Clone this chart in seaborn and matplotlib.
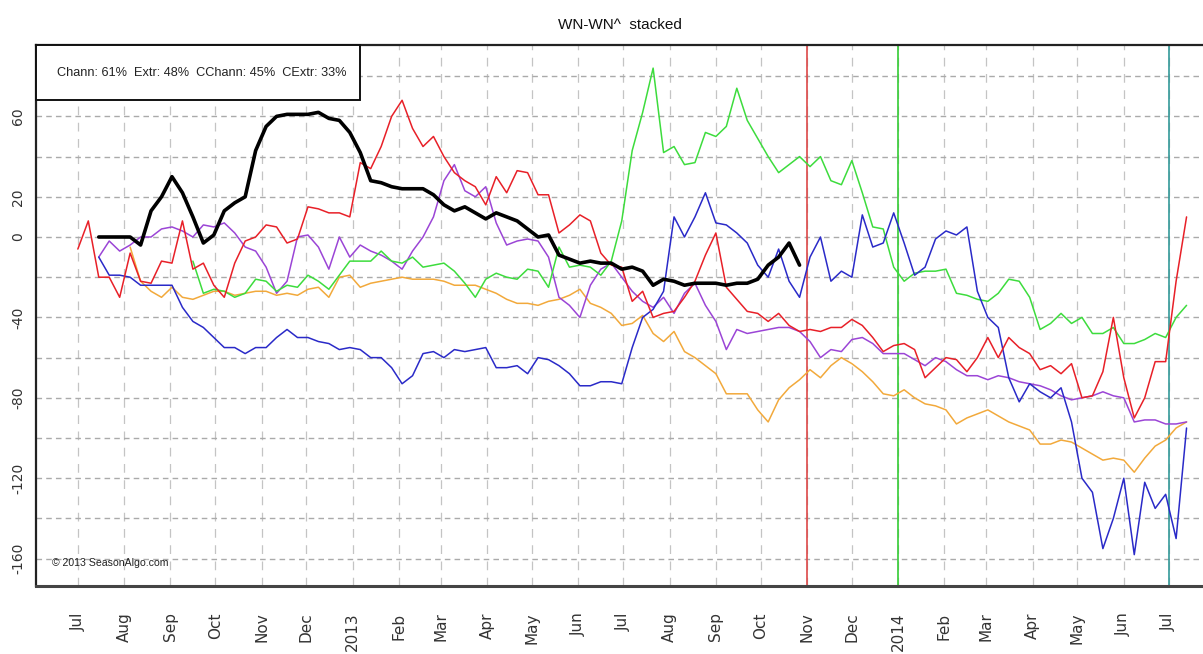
import pandas as pd
import seaborn as sns
import matplotlib.pyplot as plt
from matplotlib.patches import Rectangle

# weekly readings: one value every 7 days from each series' start date
red_start = '2012-07-01'
red_vals = [-6, 8, -20, -20, -30, -8, -22, -23, -12, -13, 8, -16, -13, -24, -30, -13, -2, 0, 6, 5,
            -3, -1, 15, 14, 12, 12, 10, 37, 34, 45, 60, 68, 54, 45,
            50, 40, 32, 28, 25, 16, 30, 22, 33, 32, 21, 21, 2, 6, 11, 8, -8, -14, -15, -32,
            -27, -40, -38, -37, -30, -22, -9, 2, -25, -31, -37, -38, -42, -38, -44, -47,
            -46, -47, -45, -45, -41, -44, -50, -57, -54, -53, -56, -70, -65, -60, -61, -67,
            -60, -50, -60, -50, -55, -58, -66, -64, -68, -63, -80, -79, -67, -40, -70, -90,
            -80, -62, -62, -22, 10]

black_start = '2012-07-15'
black_vals = [0, 0, 0, 0, -4, 13, 20, 30, 22, 10, -3, 1, 13, 17, 20, 43, 55, 60, 61, 61,
              61, 62, 59, 58, 52, 42, 28, 27, 25, 24, 24, 24,
              21, 16, 13, 15, 12, 9, 12, 10, 8, 4, 0, 1, -9, -11, -13, -12, -13, -13,
              -16, -15, -17, -24, -21, -22, -24, -23, -23, -23, -24, -23, -23, -21, -14, -10,
              -3, -14]

blue_start = '2012-07-15'
blue_vals = [-10, -19, -19, -20, -24, -24, -24, -24, -35, -42, -45, -50, -55, -55, -58, -55,
             -55, -50, -46, -50, -50, -52, -53, -56, -55, -56, -60, -60, -65, -73, -69, -58,
             -57, -60, -56, -57, -56, -55, -65, -65, -64, -68, -60, -61, -64, -68, -74, -74,
             -72, -72, -73, -55, -40, -36, -27, 10, 0, 10, 22, 7, 6, 2, -3, -14, -20, -6,
             -22, -30,
             -10, 0, -22, -17, -20, 11, -5, -3, 12, -3, -19, -15, -1, 3, 1, 5, -27, -40,
             -45, -70, -82, -73, -77, -80, -75, -92, -120, -127, -155, -140, -120, -158,
             -122, -135, -128, -150, -95]

purple_start = '2012-07-15'
purple_vals = [-10, -2, -7, -4, 0, 0, 4, 5, 3, 0, 6, 5, 7, 2, -5, -7, -15, -28, -22, 0,
               1, -5, -16, 0, -10, -4, -7, -9, -12, -16, -7, 0,
               10, 28, 36, 23, 20, 25, 7, -4, -2, -1, -2, -10, -30, -34, -40, -24, -16, -13,
               -20, -27, -32, -35, -30, -38, -28, -23, -34, -42, -56, -46, -48, -47, -46, -45,
               -45, -47,
               -52, -60, -56, -57, -51, -50, -53, -58, -58, -58, -61, -64, -60, -62, -66, -69,
               -69, -71, -69, -70, -72, -73, -74, -76, -79, -81, -80, -79, -77, -79, -80, -92,
               -91, -91, -93, -93, -92]

orange_start = '2012-08-05'
orange_vals = [-5, -22, -27, -30, -25, -30, -31, -29, -27, -27, -29, -28, -27, -27, -29, -28,
               -29, -26, -25, -30, -20, -19, -25, -23, -22, -21, -20, -21, -21,
               -21, -22, -24, -24, -24, -26, -28, -31, -33, -33, -34, -32, -31, -29, -26, -33,
               -35, -38, -44, -43, -39, -48, -52, -47, -57, -60, -64, -68, -78, -78, -78, -86,
               -92, -81, -75, -71,
               -66, -70, -64, -60, -63, -67, -72, -78, -79, -76, -80, -83, -84, -86, -93, -90,
               -88, -86, -89, -92, -94, -96, -103, -103, -101, -102, -105, -108, -111, -110,
               -111, -117, -110, -104, -101, -95, -92]

green_start = '2012-09-16'
green_vals = [-12, -28, -26, -27, -30, -28, -21, -22, -27, -24, -25, -19, -22, -26, -19, -12,
              -12, -12, -7, -12, -13, -10, -15,
              -14, -13, -17, -23, -30, -21, -18, -20, -21, -16, -17, -25, -5, -15, -14, -15,
              -19, -12, 8, 43, 62, 84, 42, 45, 36, 37, 52, 50, 55, 74, 58, 49, 40, 32, 36, 40,
              35, 40, 28, 26, 38, 22, 5, 4, -15, -22, -18, -17, -17, -16, -28, -29, -31, -32,
              -28, -21, -22, -30, -46, -43, -38, -43, -40, -48, -48, -45, -53, -53, -51, -48,
              -50, -40, -34]

marker_dates = ['2013-11-01', '2014-01-01', '2014-07-01']
marker_colors = ['#dd4848', '#33cc33', '#339999']

stats_text = 'Chann: 61%  Extr: 48%  CChann: 45%  CExtr: 33%'
title_text = 'WN-WN^  stacked'

series = [
    (orange_start, orange_vals, '#f2a93b', 1.1),
    (purple_start, purple_vals, '#9b45d6', 1.1),
    (green_start, green_vals, '#3ddc3d', 1.1),
    (blue_start, blue_vals, '#2a2ac8', 1.1),
    (red_start, red_vals, '#e82028', 1.1),
    (black_start, black_vals, '#000000', 2.6),
]


def main():
    sns.set_style('white')
    plt.rcParams['axes.unicode_minus'] = False
    narrow = ['Liberation Sans', 'DejaVu Sans']

    fig = plt.figure(figsize=(12.03, 6.54), dpi=100)
    ax = fig.add_axes([36 / 1203, 1 - 586 / 654, 1 - 36 / 1203, 541 / 654])

    for start, vals, color, lw in series:
        df = pd.DataFrame({'date': pd.date_range(start, periods=len(vals), freq='7D'),
                           'value': vals})
        sns.lineplot(data=df, x='date', y='value', color=color, linewidth=lw, ax=ax)

    for d, c in zip(marker_dates, marker_colors):
        ax.axvline(pd.Timestamp(d), color=c, lw=1.2, zorder=1)

    ax.set_xlim(pd.Timestamp('2012-06-03'), pd.Timestamp('2014-07-24'))
    ax.set_ylim(-173.6, 95.5)

    months = pd.date_range('2012-07-01', '2014-07-01', freq='MS')
    labels = [str(m.year) if m.month == 1 else m.strftime('%b') for m in months]
    ax.set_xticks(months)
    ax.set_xticklabels(labels)
    yticks = list(range(-160, 81, 20))
    shown = (60, 20, 0, -40, -80, -120, -160)
    ax.set_yticks(yticks)
    ax.set_yticklabels([str(v) if v in shown else '' for v in yticks])

    ax.tick_params(axis='x', length=0, pad=19, labelsize=11, labelrotation=90, colors='#333333')
    ax.tick_params(axis='y', length=0, pad=8, labelsize=10, labelrotation=90, colors='#333333')
    for lab in ax.get_yticklabels():
        lab.set_va('center')
    ax.yaxis.grid(True, linestyle=(0, (4, 3)), color='#aaaaaa', lw=1)
    ax.xaxis.grid(True, linestyle=(0, (7, 6)), color='#c4c4c4', lw=0.9)
    ax.set_axisbelow(True)
    ax.set_xlabel('')
    ax.set_ylabel('')

    for side in ('top', 'left', 'bottom'):
        ax.spines[side].set_visible(True)
        ax.spines[side].set_color('#222222')
        ax.spines[side].set_linewidth(1.6)
    ax.spines['bottom'].set_linewidth(2.2)
    ax.spines['bottom'].set_color('#444444')
    ax.spines['right'].set_visible(False)

    ax.add_patch(Rectangle((0, 0.898), 0.278, 0.102, transform=ax.transAxes,
                           facecolor='white', edgecolor='#111111', lw=1.4,
                           zorder=5, clip_on=False))
    ax.text(0.018, 0.949, stats_text, transform=ax.transAxes, va='center', ha='left',
            fontsize=9.2, family=narrow, color='#222222', zorder=6)
    ax.text(0.0137, 0.0425, '\u00a9 2013 SeasonAlgo.com', transform=ax.transAxes,
            va='center', ha='left', fontsize=7.6, family=narrow, color='#222222')
    fig.text(619.5 / 1203, 1 - 25 / 654, title_text, ha='center', va='center',
             fontsize=11, family=narrow, color='#111111')

    fig.savefig('out.png', dpi=100)
    plt.close(fig)


if __name__ == "__main__":
    main()
